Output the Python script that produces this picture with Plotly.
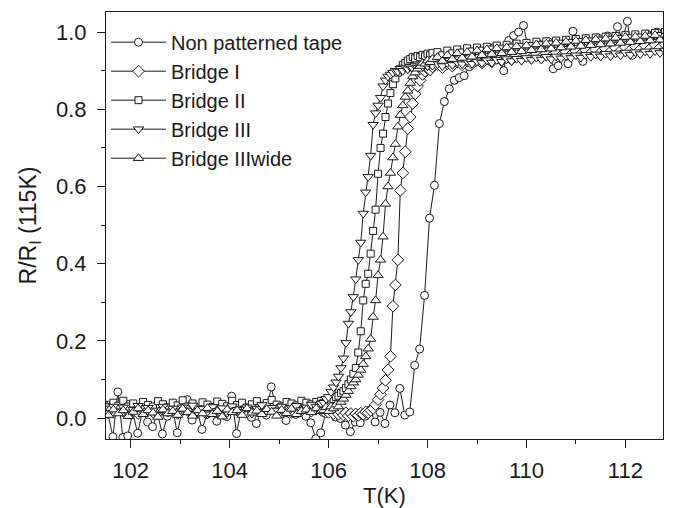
import plotly.graph_objects as go

# ---------------- data ----------------
T_tape = [101.54, 101.64, 101.74, 101.84, 101.94, 102.04, 102.14, 102.24, 102.34, 102.44,
          102.54, 102.64, 102.74, 102.84, 102.94, 103.04, 103.14, 103.24, 103.34, 103.44,
          103.54, 103.64, 103.74, 103.84, 103.94, 104.04, 104.14, 104.24, 104.34, 104.44,
          104.54, 104.64, 104.74, 104.84, 104.94, 105.04, 105.14, 105.24, 105.34, 105.44,
          105.54, 105.64, 105.74, 105.84, 105.94, 106.04, 106.14, 106.24, 106.34, 106.44,
          106.54, 106.64, 106.74, 106.84, 106.94, 107.04, 107.14, 107.24, 107.34, 107.44,
          107.54, 107.64, 107.74, 107.84, 107.94, 108.04, 108.14, 108.24, 108.34, 108.44,
          108.54, 108.64, 108.74, 108.84, 108.94, 109.04, 109.14, 109.24, 109.34, 109.44,
          109.54, 109.64, 109.74, 109.84, 109.94, 110.04, 110.14, 110.24, 110.34, 110.44,
          110.54, 110.64, 110.74, 110.84, 110.94, 111.04, 111.14, 111.24, 111.34, 111.44,
          111.54, 111.64, 111.74, 111.84, 111.94, 112.04, 112.14, 112.24, 112.34, 112.44,
          112.54, 112.64, 112.74, 112.84]
R_tape = [0.010, -0.048, 0.068, -0.050, -0.046, 0.015, -0.039, 0.020, -0.010, -0.022,
          0.012, -0.041, 0.005, 0.030, -0.038, 0.018, 0.048, -0.005, 0.022, -0.029,
          0.010, 0.025, -0.008, 0.018, 0.004, 0.057, -0.040, 0.028, 0.015, 0.002,
          -0.014, 0.020, 0.008, 0.081, 0.022, 0.012, -0.006, 0.026, 0.010, 0.030,
          0.005, -0.012, -0.053, -0.038, 0.012, 0.020, 0.003, -0.001, -0.018, -0.035,
          -0.010, -0.012, 0.005, 0.021, -0.010, 0.015, -0.014, 0.034, 0.014, 0.077,
          0.008, 0.016, 0.137, 0.179, 0.318, 0.518, 0.603, 0.763, 0.820, 0.853,
          0.875, 0.882, 0.887, 0.910, 0.920, 0.930, 0.948, 0.925, 0.960, 0.935,
          0.900, 0.978, 0.991, 1.000, 1.017, 0.955, 0.940, 0.970, 0.950, 0.975,
          0.905, 0.913, 0.960, 0.918, 1.002, 0.965, 0.924, 0.975, 0.950, 0.985,
          0.960, 0.990, 0.970, 1.014, 0.980, 1.028, 0.940, 0.985, 0.960, 0.995,
          0.975, 1.000, 0.985, 0.995]

T_bridge = [101.45, 101.55, 101.65, 101.75, 101.85, 101.95, 102.05, 102.15, 102.25, 102.35,
            102.45, 102.55, 102.65, 102.75, 102.85, 102.95, 103.05, 103.15, 103.25, 103.35,
            103.45, 103.55, 103.65, 103.75, 103.85, 103.95, 104.05, 104.15, 104.25, 104.35,
            104.45, 104.55, 104.65, 104.75, 104.85, 104.95, 105.05, 105.15, 105.25, 105.35,
            105.45, 105.55, 105.65, 105.75, 105.85,
            105.90, 105.95, 106.00, 106.05, 106.10, 106.15, 106.20, 106.25, 106.30, 106.35,
            106.40, 106.45, 106.50, 106.55, 106.60, 106.65, 106.70, 106.75, 106.80, 106.85,
            106.90, 106.95, 107.00, 107.05, 107.10, 107.15, 107.20, 107.25, 107.30, 107.35,
            107.40, 107.45, 107.50, 107.55, 107.60, 107.65, 107.70, 107.75, 107.80, 107.85,
            107.90, 107.95, 108.00, 108.05, 108.10,
            108.2, 108.3, 108.4, 108.5, 108.6, 108.7, 108.8, 108.9, 109.0, 109.1,
            109.2, 109.3, 109.4, 109.5, 109.6, 109.7, 109.8, 109.9, 110.0, 110.1,
            110.2, 110.3, 110.4, 110.5, 110.6, 110.7, 110.8, 110.9, 111.0, 111.1,
            111.2, 111.3, 111.4, 111.5, 111.6, 111.7, 111.8, 111.9, 112.0, 112.1,
            112.2, 112.3, 112.4, 112.5, 112.6, 112.7, 112.8]

R_bridge1 = [0.022, 0.030, 0.015, 0.026, 0.018, 0.032, 0.020, 0.012, 0.028, 0.022,
             0.016, 0.030, 0.024, 0.018, 0.027, 0.012, 0.025, 0.020, 0.030, 0.015,
             0.027, 0.022, 0.018, 0.029, 0.013, 0.024, 0.030, 0.020, 0.026, 0.016,
             0.028, 0.022, 0.019, 0.030, 0.025, 0.017, 0.027, 0.021, 0.015, 0.026,
             0.020, 0.028, 0.018, 0.024, 0.020,
             0.018, 0.022, 0.015, 0.020, 0.012, 0.018, 0.010, 0.016, 0.008, 0.014,
             0.006, 0.012, 0.005, 0.011, 0.007, 0.013, 0.010, 0.016, 0.014, 0.020,
             0.025, 0.035, 0.048, 0.062, 0.078, 0.098, 0.125, 0.160, 0.290, 0.345,
             0.410, 0.590, 0.635, 0.690, 0.750, 0.780, 0.815, 0.840, 0.860, 0.875,
             0.890, 0.898, 0.905, 0.902, 0.910,
             0.915, 0.908, 0.918, 0.912, 0.922, 0.915, 0.925, 0.918, 0.928, 0.920,
             0.930, 0.923, 0.933, 0.926, 0.936, 0.929, 0.939, 0.931, 0.941, 0.933,
             0.943, 0.935, 0.945, 0.937, 0.947, 0.939, 0.949, 0.941, 0.951, 0.943,
             0.953, 0.945, 0.955, 0.947, 0.957, 0.949, 0.959, 0.951, 0.961, 0.953,
             0.963, 0.955, 0.965, 0.957, 0.967, 0.959, 0.968]

R_bridge2 = [0.035, 0.028, 0.040, 0.032, 0.045, 0.030, 0.038, 0.026, 0.042, 0.034,
             0.030, 0.044, 0.036, 0.028, 0.040, 0.033, 0.046, 0.030, 0.038, 0.025,
             0.041, 0.035, 0.029, 0.043, 0.037, 0.031, 0.045, 0.034, 0.040, 0.028,
             0.036, 0.044, 0.032, 0.039, 0.047, 0.035, 0.030, 0.042, 0.038, 0.033,
             0.045, 0.040, 0.036, 0.042, 0.045,
             0.040, 0.045, 0.038, 0.048, 0.050, 0.055, 0.058, 0.065, 0.070, 0.078,
             0.088, 0.100, 0.115, 0.130, 0.170, 0.225, 0.305, 0.348, 0.374, 0.426,
             0.485, 0.540, 0.633, 0.700, 0.737, 0.780, 0.815, 0.842, 0.865, 0.880,
             0.895, 0.905, 0.915, 0.920, 0.926, 0.930, 0.935, 0.932, 0.938, 0.935,
             0.941, 0.937, 0.944, 0.940, 0.946,
             0.948, 0.940, 0.952, 0.945, 0.955, 0.947, 0.958, 0.950, 0.960, 0.952,
             0.962, 0.955, 0.965, 0.957, 0.967, 0.960, 0.970, 0.962, 0.972, 0.964,
             0.975, 0.966, 0.976, 0.968, 0.978, 0.970, 0.980, 0.972, 0.982, 0.974,
             0.984, 0.976, 0.986, 0.978, 0.988, 0.980, 0.990, 0.982, 0.992, 0.984,
             0.994, 0.986, 0.996, 0.988, 0.998, 0.990, 1.000]

R_bridge3 = [0.025, 0.012, 0.030, 0.018, 0.028, 0.010, 0.022, 0.032, 0.015, 0.027,
             0.020, 0.008, 0.030, 0.018, 0.025, 0.012, 0.028, 0.020, 0.033, 0.015,
             0.024, 0.010, 0.029, 0.019, 0.026, 0.014, 0.031, 0.022, 0.017, 0.028,
             0.012, 0.025, 0.034, 0.018, 0.027, 0.020, 0.030, 0.015, 0.026, 0.032,
             0.021, 0.028, 0.035, 0.030, 0.038,
             0.040, 0.050, 0.055, 0.068, 0.080, 0.093, 0.108, 0.130, 0.155, 0.195,
             0.245, 0.275, 0.314, 0.360, 0.410, 0.455, 0.530, 0.585, 0.625, 0.680,
             0.760, 0.790, 0.810, 0.830, 0.860, 0.875, 0.885, 0.890, 0.895, 0.900,
             0.898, 0.905, 0.900, 0.908, 0.904, 0.910, 0.906, 0.912, 0.908, 0.914,
             0.910, 0.916, 0.912, 0.918, 0.913,
             0.917, 0.912, 0.920, 0.915, 0.922, 0.917, 0.925, 0.918, 0.924, 0.920,
             0.927, 0.921, 0.928, 0.923, 0.930, 0.925, 0.931, 0.926, 0.933, 0.928,
             0.934, 0.929, 0.936, 0.930, 0.937, 0.932, 0.938, 0.933, 0.940, 0.934,
             0.941, 0.936, 0.942, 0.937, 0.944, 0.938, 0.945, 0.940, 0.947, 0.941,
             0.948, 0.943, 0.950, 0.944, 0.951, 0.946, 0.952]

R_bridge3w = [0.018, 0.008, 0.022, 0.012, 0.020, 0.005, 0.016, 0.025, 0.010, 0.020,
              0.014, 0.003, 0.022, 0.012, 0.018, 0.008, 0.024, 0.015, 0.006, 0.020,
              0.012, 0.026, 0.010, 0.018, 0.004, 0.022, 0.015, 0.020, 0.008, 0.025,
              0.014, 0.019, 0.010, 0.023, 0.016, 0.006, 0.021, 0.013, 0.024, 0.010,
              0.018, 0.022, 0.015, 0.025, 0.018,
              0.020, 0.028, 0.018, 0.030, 0.025, 0.035, 0.030, 0.042, 0.050, 0.060,
              0.070, 0.082, 0.092, 0.100, 0.112, 0.125, 0.140, 0.160, 0.180, 0.205,
              0.262, 0.305, 0.370, 0.410, 0.470, 0.555, 0.600, 0.635, 0.675, 0.710,
              0.755, 0.785, 0.810, 0.832, 0.848, 0.868, 0.885, 0.895, 0.905, 0.912,
              0.920, 0.918, 0.926, 0.922, 0.930,
              0.935, 0.925, 0.940, 0.930, 0.945, 0.933, 0.948, 0.936, 0.952, 0.940,
              0.955, 0.943, 0.958, 0.945, 0.960, 0.948, 0.963, 0.950, 0.965, 0.953,
              0.968, 0.955, 0.970, 0.957, 0.972, 0.960, 0.975, 0.962, 0.977, 0.964,
              0.979, 0.966, 0.981, 0.968, 0.983, 0.970, 0.985, 0.972, 0.987, 0.974,
              0.988, 0.976, 0.990, 0.978, 0.992, 0.980, 0.993]

series_names = ["Non patterned tape", "Bridge I", "Bridge II", "Bridge III", "Bridge IIIwide"]

# ---------------- figure ----------------
INK = "#1a1a1a"
FONT = "Liberation Sans, Arial, Helvetica, sans-serif"

specs = [
    (T_tape, R_tape, "circle", 8),
    (T_bridge, R_bridge1, "diamond", 9),
    (T_bridge, R_bridge2, "square", 7),
    (T_bridge, R_bridge3, "triangle-down", 9),
    (T_bridge, R_bridge3w, "triangle-up", 9),
]

fig = go.Figure()
for name, (tx, ry, sym, sz) in zip(series_names, specs):
    assert len(tx) == len(ry)
    fig.add_trace(go.Scatter(
        x=tx, y=ry, name=name, mode="lines+markers",
        line=dict(color=INK, width=1),
        marker=dict(symbol=sym, size=sz, color="white",
                    line=dict(color=INK, width=1)),
    ))

axis_common = dict(
    showline=True, linecolor=INK, linewidth=1, mirror=True,
    showgrid=False, zeroline=False, automargin=False,
    ticks="outside", ticklen=8, tickwidth=1, tickcolor=INK,
    tickfont=dict(size=22, color=INK, family=FONT),
)

fig.update_xaxes(
    range=[101.5, 112.76], tick0=102, dtick=2,
    minor=dict(dtick=1, tick0=101, ticks="outside", ticklen=4, tickcolor=INK),
    title=dict(text="T(K)", font=dict(size=22, color=INK, family=FONT), standoff=9),
    ticklabelstandoff=4,
    **axis_common,
)
fig.update_yaxes(
    range=[-0.054, 1.052], tick0=0, dtick=0.2, tickformat=".1f",
    minor=dict(dtick=0.1, ticks="outside", ticklen=4, tickcolor=INK),
    title=dict(text="R/R<sub>I</sub> (115K)", font=dict(size=23, color=INK, family=FONT), standoff=12),
    ticklabelstandoff=6,
    **axis_common,
)

fig.update_layout(
    width=678, height=508,
    margin=dict(l=106, r=15, t=12, b=69),
    paper_bgcolor="white", plot_bgcolor="white",
    font=dict(family=FONT, color=INK),
    showlegend=True,
    legend=dict(x=0.0, y=0.975, xanchor="left", yanchor="top",
                bgcolor="rgba(0,0,0,0)", borderwidth=0,
                font=dict(size=20, color=INK, family=FONT),
                itemwidth=55, tracegroupgap=0),
)

fig.write_html("out.html")
